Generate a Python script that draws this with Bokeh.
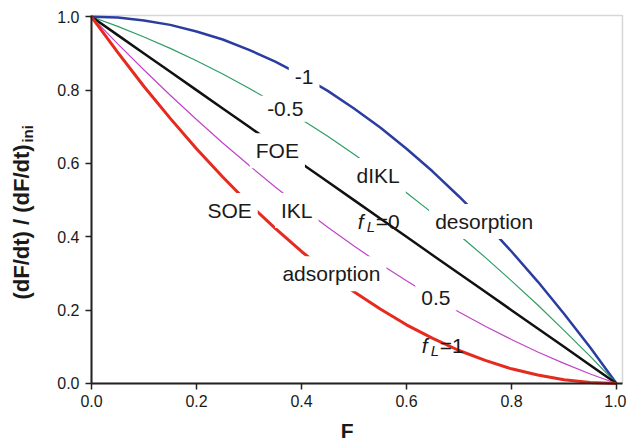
import math
from bokeh.plotting import figure
from bokeh.models import (Label, FixedTicker, PrintfTickFormatter, Range1d,
                          LinearAxis, BoxAnnotation)
from bokeh.embed import file_html
from bokeh.resources import INLINE

# ---- data ----
F = [0.00, 0.05, 0.10, 0.15, 0.20, 0.25, 0.30, 0.35, 0.40, 0.45, 0.50,
     0.55, 0.60, 0.65, 0.70, 0.75, 0.80, 0.85, 0.90, 0.95, 1.00]
rate_fL_m1 = [1.000, 0.998, 0.990, 0.978, 0.960, 0.938, 0.910, 0.878, 0.840, 0.798, 0.750,
              0.698, 0.640, 0.578, 0.510, 0.438, 0.360, 0.278, 0.190, 0.098, 0.000]
rate_fL_m05 = [1.000, 0.974, 0.945, 0.914, 0.880, 0.844, 0.805, 0.764, 0.720, 0.674, 0.625,
               0.574, 0.520, 0.464, 0.405, 0.344, 0.280, 0.214, 0.145, 0.074, 0.000]
rate_fL_0 = [1.000, 0.950, 0.900, 0.850, 0.800, 0.750, 0.700, 0.650, 0.600, 0.550, 0.500,
             0.450, 0.400, 0.350, 0.300, 0.250, 0.200, 0.150, 0.100, 0.050, 0.000]
rate_fL_05 = [1.000, 0.926, 0.855, 0.786, 0.720, 0.656, 0.595, 0.536, 0.480, 0.426, 0.375,
              0.326, 0.280, 0.236, 0.195, 0.156, 0.120, 0.086, 0.055, 0.026, 0.000]
rate_fL_1 = [1.000, 0.903, 0.810, 0.723, 0.640, 0.563, 0.490, 0.423, 0.360, 0.303, 0.250,
             0.203, 0.160, 0.123, 0.090, 0.063, 0.040, 0.023, 0.010, 0.003, 0.000]

x_ticks = [0.0, 0.2, 0.4, 0.6, 0.8, 1.0]
y_ticks = [0.0, 0.2, 0.4, 0.6, 0.8, 1.0]

series_colors = ["#2b3da0", "#2e9e66", "#111111", "#c044c8", "#e62a1e"]
series_widths = [2.5, 1.2, 2.5, 1.2, 3.0]

# curve labels: (text, x, y)
curve_labels = [
    ("-1", 0.405, 0.8356),
    ("-0.5", 0.369, 0.749),
    ("FOE", 0.354, 0.6346),
    ("SOE", 0.263, 0.4718),
    ("IKL", 0.391, 0.4718),
    ("dIKL", 0.546, 0.567),
    ("desorption", 0.748, 0.442),
    ("adsorption", 0.457, 0.299),
    ("0.5", 0.656, 0.2337),
]
# f_L labels: (value text, x, y)
fl_labels = [("=0", 0.4958, 0.4426), ("=1", 0.6176, 0.1036)]

X_MAX = 1.0114   # right edge of the plot box
Y_MAX = 1.0035   # top edge of the plot box

FONT = "Liberation Sans"
TXT = "#1a1a1a"

# the frame covers the whole canvas; axes are drawn at fixed locations
p = figure(width=626, height=442, output_backend="svg", toolbar_location=None,
           x_range=Range1d(-0.17333, 1.01905), y_range=Range1d(-0.16090, 1.04445),
           x_axis_location=None, y_axis_location=None,
           min_border_left=0, min_border_right=0, min_border_top=0,
           min_border_bottom=0)
p.grid.visible = False
p.background_fill_color = "white"
p.border_fill_color = "white"
p.outline_line_color = None

# plot box (top and right edges grey)
p.add_layout(BoxAnnotation(left=0, right=X_MAX, bottom=0, top=Y_MAX,
                           fill_color=None, line_color="#777777", line_width=1.5,
                           level="underlay"))

xax = LinearAxis(fixed_location=0, bounds=(0, X_MAX))
yax = LinearAxis(fixed_location=0, bounds=(0, Y_MAX))
p.add_layout(xax, "below")
p.add_layout(yax, "left")
for ax, ticks in ((xax, x_ticks), (yax, y_ticks)):
    ax.ticker = FixedTicker(ticks=ticks)
    ax.formatter = PrintfTickFormatter(format="%.1f")
    ax.minor_tick_line_color = None
    ax.major_tick_in = 0
    ax.major_tick_out = 6
    ax.major_tick_line_width = 1.5
    ax.major_tick_line_color = "#222222"
    ax.axis_line_color = "#222222"
    ax.axis_line_width = 2
    ax.major_label_text_font = FONT
    ax.major_label_text_font_size = "16px"
    ax.major_label_text_color = TXT
    ax.major_label_standoff = 6

all_series = [rate_fL_m1, rate_fL_m05, rate_fL_0, rate_fL_05, rate_fL_1]
for ys, c, w in zip(all_series, series_colors, series_widths):
    p.line(F, ys, line_color=c, line_width=w)

def mk(text, x, y, **kw):
    opts = dict(text_font=FONT, text_font_size="21px", text_color=TXT,
                text_align="center", text_baseline="alphabetic",
                background_fill_color="white", padding=6)
    opts.update(kw)
    return Label(x=x, y=y, text=text, **opts)

for t, x, y in curve_labels:
    p.add_layout(mk(t, x, y))

for t, x, y in fl_labels:
    # white box behind the whole composite label
    p.add_layout(mk("fL" + t, x, y, text_align="left", text_alpha=0))
    p.add_layout(mk("f", x, y, text_align="left", text_font_style="italic",
                    background_fill_color=None))
    p.add_layout(mk("L", x, y, text_align="left", text_font_style="italic",
                    text_font_size="15px", x_offset=9, y_offset=-5,
                    background_fill_color=None))
    p.add_layout(mk(t, x, y, text_align="left", x_offset=18,
                    background_fill_color=None))

# axis titles
p.add_layout(Label(x=0.487, y=-0.1282, text="F",
                   text_font=FONT, text_font_size="21px", text_font_style="bold",
                   text_color=TXT, text_align="center", text_baseline="alphabetic"))
p.add_layout(Label(x=-0.1339, y=0.2291,
                   text="(dF/dt) / (dF/dt)", angle=math.pi / 2,
                   text_font=FONT, text_font_size="22px", text_font_style="bold",
                   text_color=TXT, text_align="left", text_baseline="alphabetic"))
p.add_layout(Label(x=-0.1226, y=0.657,
                   text="ini", angle=math.pi / 2,
                   text_font=FONT, text_font_size="15px", text_font_style="bold",
                   text_color=TXT, text_align="left", text_baseline="alphabetic"))

open("out.html", "w").write(file_html(p, INLINE))
